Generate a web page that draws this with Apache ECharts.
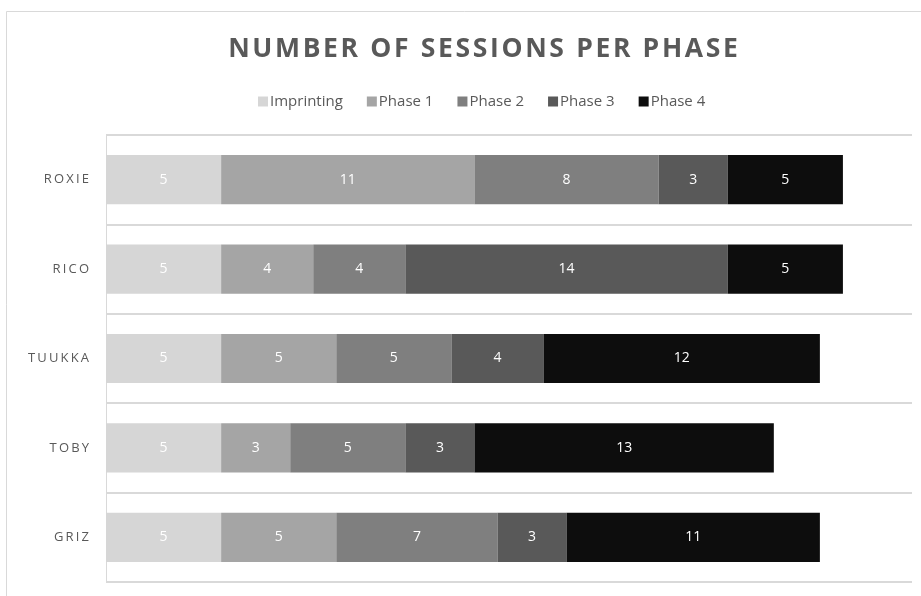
<!DOCTYPE html>
<html>
<head>
<meta charset="utf-8">
<script src="https://cdn.jsdelivr.net/npm/echarts@6/dist/echarts.min.js"></script>
<style>
  html, body { margin: 0; padding: 0; background: #fff; }
  #chart { width: 921px; height: 596px; }
</style>
</head>
<body>
<div id="chart"></div>
<script>
// Horses, listed bottom to top as drawn on the category axis
const horses = ['GRIZ', 'TOBY', 'TUUKKA', 'RICO', 'ROXIE'];
const phaseNames = ['Imprinting', 'Phase 1', 'Phase 2', 'Phase 3', 'Phase 4'];

// Sessions per phase, one array per phase, same order as horses
const imprinting = [5, 5, 5, 5, 5];
const phase1 = [5, 3, 5, 4, 11];
const phase2 = [7, 5, 5, 4, 8];
const phase3 = [3, 3, 4, 14, 3];
const phase4 = [11, 13, 12, 5, 5];

const phaseValues = [imprinting, phase1, phase2, phase3, phase4];
const phaseColors = ['#d6d6d6', '#a5a5a5', '#7f7f7f', '#595959', '#0d0d0d'];

const FONT = 'Open Sans';
const TITLE = 'NUMBER OF SESSIONS PER PHASE';

// canvas text has no letter-spacing option, so tracking is added with narrow spaces
const track = (s, sp) => s.split('').join(sp);

const chart = echarts.init(document.getElementById('chart'), null, { renderer: 'canvas' });

chart.setOption({
  animation: false,
  backgroundColor: '#fff',
  textStyle: { fontFamily: FONT },
  graphic: [{
    type: 'rect',
    shape: { x: 6.5, y: 11.5, width: 930, height: 600 },
    style: { fill: 'none', stroke: '#d9d9d9', lineWidth: 1 },
    silent: true
  }],
  title: {
    text: track(TITLE, '\u200A'),
    left: 478,
    top: 31,
    textAlign: 'center',
    textStyle: { fontFamily: FONT, fontSize: 26.5, fontWeight: 'bold', color: '#595959' }
  },
  legend: {
    data: phaseNames,
    left: 253,
    top: 89,
    itemWidth: 10,
    itemHeight: 10,
    itemGap: 24,
    icon: 'rect',
    textStyle: { fontFamily: FONT, fontSize: 15, color: '#595959', padding: [0, 0, 0, -3] }
  },
  grid: { left: 106, right: 9, top: 135, bottom: 14, containLabel: false },
  xAxis: {
    type: 'value',
    min: 0,
    max: 35,
    show: false
  },
  yAxis: {
    type: 'category',
    data: horses,
    axisLine: { show: true, lineStyle: { color: '#d9d9d9', width: 1 } },
    axisTick: { show: false },
    splitLine: { show: true, lineStyle: { color: '#d9d9d9', width: 2 } },
    axisLabel: { fontFamily: FONT, fontSize: 13, color: '#595959', margin: 17,
      formatter: v => track(v, '\u2009') }
  },
  series: phaseNames.map((name, i) => ({
    name: name,
    type: 'bar',
    stack: 'sessions',
    barCategoryGap: '45%',
    data: phaseValues[i],
    itemStyle: { color: phaseColors[i] },
    label: {
      show: true,
      position: 'inside',
      color: '#ffffff',
      fontFamily: FONT,
      fontSize: 14
    }
  }))
});
</script>
</body>
</html>
